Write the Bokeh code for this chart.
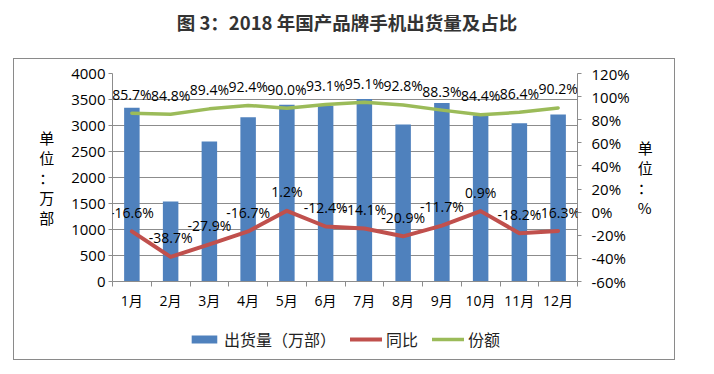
import numpy as np
from bokeh.plotting import figure
from bokeh.layouts import column
from bokeh.models import (Range1d, LinearAxis, FixedTicker, PrintfTickFormatter,
                          LabelSet, Legend, LegendItem, ColumnDataSource, Div)
from bokeh.core.properties import value
from bokeh.embed import file_html
from bokeh.resources import INLINE

# ---- data ----
months = ["1月", "2月", "3月", "4月", "5月", "6月", "7月", "8月", "9月", "10月", "11月", "12月"]
shipments = [3340, 1540, 2690, 3160, 3400, 3380, 3510, 3020, 3435, 3190, 3045, 3210]
yoy = [-16.6, -38.7, -27.9, -16.7, 1.2, -12.4, -14.1, -20.9, -11.7, 0.9, -18.2, -16.3]
share = [85.7, 84.8, 89.4, 92.4, 90.0, 93.1, 95.1, 92.8, 88.3, 84.4, 86.4, 90.2]
left_ticks = [0, 500, 1000, 1500, 2000, 2500, 3000, 3500, 4000]
right_ticks = [-60, -40, -20, 0, 20, 40, 60, 80, 100, 120]
title_text = "图 3：2018 年国产品牌手机出货量及占比"
left_unit = "单\n位\n：\n万\n部"
right_unit = "单\n位\n：\n%"
series_names = ["出货量（万部）", "同比", "份额"]

BLUE = "#4F81BD"
RED = "#C0504D"
GREEN = "#9BBB59"
NUM_FONT = "Open Sans, Noto Sans CJK SC"
CJK_FONT = "Noto Sans CJK SC"

xc = np.arange(len(months)) + 0.5
src = ColumnDataSource(dict(
    x=xc, ship=shipments, yoy=yoy, share=share,
    yoy_lbl=[f"{v:.1f}%" for v in yoy],
    share_lbl=[f"{v:.1f}%" for v in share],
))

title_div = Div(text=title_text, width=694, height=58, margin=0,
                styles={"font-family": CJK_FONT, "font-size": "18.5px",
                        "font-weight": "bold", "color": "#333333",
                        "text-align": "center", "line-height": "44px",
                        "width": "694px"})

p = figure(frame_width=465, frame_height=208, x_range=Range1d(0, len(months)),
           y_range=Range1d(left_ticks[0], left_ticks[-1]),
           output_backend="svg", toolbar_location=None,
           min_border_left=98, min_border_right=97,
           min_border_top=14, min_border_bottom=37, margin=0)
p.extra_y_ranges = {"pct": Range1d(right_ticks[0], right_ticks[-1])}
p.outline_line_color = None
p.background_fill_color = "white"
p.border_fill_color = "white"
p.xgrid.grid_line_color = None
p.ygrid.grid_line_color = "#8c8c8c"
p.ygrid.grid_line_width = 1

# x axis
xa = p.xaxis[0]
xa.ticker = FixedTicker(ticks=list(xc), minor_ticks=list(range(len(months) + 1)))
xa.major_label_overrides = {float(x): m for x, m in zip(xc, months)}
xa.major_tick_line_color = None
xa.minor_tick_out = 5
xa.minor_tick_in = 0
xa.minor_tick_line_color = "#8c8c8c"
xa.axis_line_color = "#8c8c8c"
xa.major_label_standoff = 3
xa.major_label_text_font = NUM_FONT
xa.major_label_text_font_size = "14px"
xa.major_label_text_color = "black"

# left axis
ya = p.yaxis[0]
ya.ticker = FixedTicker(ticks=left_ticks)
ya.axis_line_color = "#8c8c8c"
ya.major_tick_line_color = "#8c8c8c"
ya.major_tick_out = 4
ya.major_tick_in = 0
ya.minor_tick_line_color = None
ya.major_label_standoff = 3
ya.major_label_text_font = NUM_FONT
ya.major_label_text_font_size = "15px"
ya.major_label_text_color = "black"
ya.axis_label = left_unit
ya.axis_label_orientation = "horizontal"
ya.axis_label_standoff = 14
ya.axis_label_text_font = CJK_FONT
ya.axis_label_text_font_size = "15px"
ya.axis_label_text_font_style = "normal"
ya.axis_label_text_color = "black"
ya.axis_label_text_line_height = 0.96
ya.axis_label_text_align = "center"

# right axis
ra = LinearAxis(y_range_name="pct", ticker=FixedTicker(ticks=right_ticks),
                formatter=PrintfTickFormatter(format="%d%%"))
ra.axis_line_color = "#8c8c8c"
ra.major_tick_line_color = "#8c8c8c"
ra.major_tick_out = 4
ra.major_tick_in = 0
ra.minor_tick_line_color = None
ra.major_label_standoff = 10
ra.major_label_text_font = NUM_FONT
ra.major_label_text_font_size = "15px"
ra.major_label_text_color = "black"
ra.axis_label = right_unit
ra.axis_label_orientation = "horizontal"
ra.axis_label_standoff = 5
ra.axis_label_text_font = CJK_FONT
ra.axis_label_text_font_size = "15px"
ra.axis_label_text_font_style = "normal"
ra.axis_label_text_color = "black"
ra.axis_label_text_line_height = 0.96
ra.axis_label_text_align = "center"
p.add_layout(ra, "right")

# glyphs
bar_style = dict(fill_color=BLUE, line_color=None)
red_style = dict(line_color=RED, line_width=4, line_join="round", line_cap="round")
green_style = dict(line_color=GREEN, line_width=3.5, line_join="round", line_cap="round")

p.vbar(x="x", top="ship", width=0.4, source=src, **bar_style)
p.line(x="x", y="yoy", source=src, y_range_name="pct", **red_style)
p.line(x="x", y="share", source=src, y_range_name="pct", **green_style)

for fld in ("share_lbl", "yoy_lbl"):
    yf = "share" if fld == "share_lbl" else "yoy"
    p.add_layout(LabelSet(x="x", y=yf, text=fld, source=src, y_range_name="pct",
                          y_offset=19, text_align="center", text_baseline="middle",
                          text_font=value(NUM_FONT), text_font_size="14px",
                          text_color="black"))

# legend strip (separate small figure inside the bordered box);
# its key renderers hold a point outside the strip's ranges so only the legend shows
lg = figure(frame_width=646, frame_height=41, x_range=Range1d(0, 1), y_range=Range1d(0, 1),
            x_axis_type=None, y_axis_type=None, output_backend="svg",
            toolbar_location=None, min_border_left=14, min_border_right=0,
            min_border_top=0, min_border_bottom=0, margin=0)
lg.outline_line_color = None
lg.grid.grid_line_color = None
lg.background_fill_color = "white"
lg.border_fill_color = "white"
key_src = ColumnDataSource(dict(x=[5, 6], top=[5, 5], y=[5, 5]))
r_bar = lg.vbar(x="x", top="top", width=0.4, source=key_src, **bar_style)
r_red = lg.line(x="x", y="y", source=key_src, **red_style)
r_green = lg.line(x="x", y="y", source=key_src, **green_style)
legend = Legend(items=[LegendItem(label=series_names[0], renderers=[r_bar]),
                       LegendItem(label=series_names[1], renderers=[r_red]),
                       LegendItem(label=series_names[2], renderers=[r_green])],
                orientation="horizontal", location="center",
                border_line_color=None, background_fill_alpha=0,
                glyph_width=32, glyph_height=10, label_standoff=4, spacing=14,
                label_text_font=CJK_FONT, label_text_font_size="16px",
                label_text_color="#222222", margin=0, padding=2)
lg.add_layout(legend, "center")

box = column(p, lg, spacing=0, margin=(0, 0, 0, 13),
             styles={"border": "1px solid #8a8a8a", "box-sizing": "content-box"})
layout = column(title_div, box, spacing=0, margin=0)
open("out.html", "w").write(file_html(layout, INLINE))
